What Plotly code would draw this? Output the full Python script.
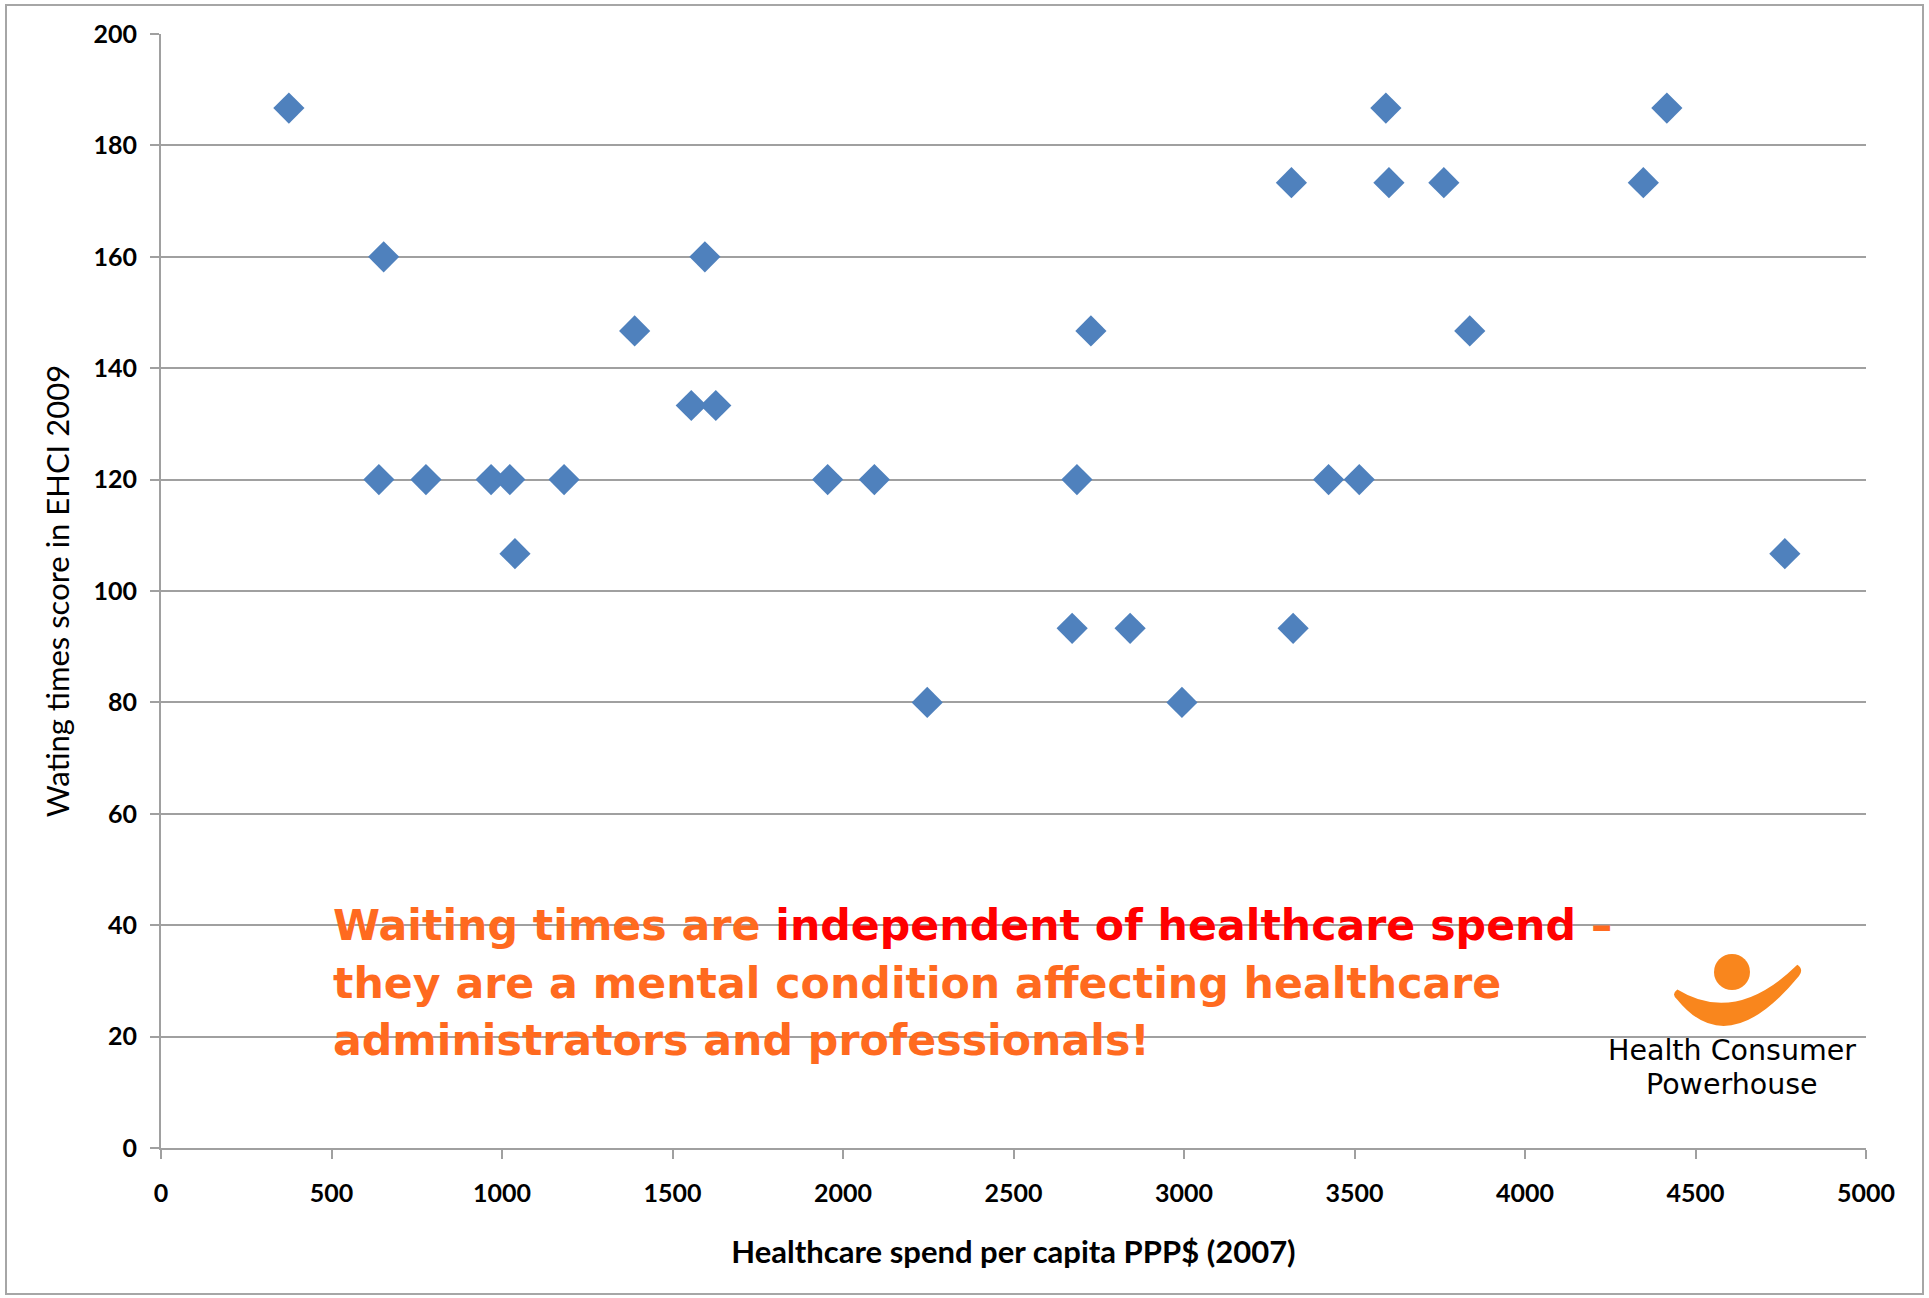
import plotly.graph_objects as go

# ---- data ----
spend = [375, 653, 639, 777, 968, 1023, 1038, 1182, 1389, 1555, 1627, 1595,
         1955, 2092, 2247, 2672, 2686, 2727, 2842, 2994, 3315, 3320, 3424,
         3514, 3592, 3601, 3762, 3838, 4347, 4416, 4762]
score = [186.7, 160, 120, 120, 120, 120, 106.7, 120, 146.7, 133.3, 133.3, 160,
         120, 120, 80, 93.3, 120, 146.7, 93.3, 80, 173.3, 93.3, 120,
         120, 186.7, 173.3, 173.3, 146.7, 173.3, 186.7, 106.7]
x_ticks = [0, 500, 1000, 1500, 2000, 2500, 3000, 3500, 4000, 4500, 5000]
y_ticks = [0, 20, 40, 60, 80, 100, 120, 140, 160, 180, 200]

x_title = "Healthcare spend per capita PPP$ (2007)"
y_title = "Wating times score in EHCI 2009"
msg_line1 = ("Waiting times are ", "independent of healthcare spend", " –")
msg_line2 = "they are a mental condition affecting healthcare"
msg_line3 = "administrators and professionals!"
logo_text = ("Health Consumer", "Powerhouse")

# ---- layout geometry ----
W, H = 1929, 1298
L, R, T, B = 161, 63, 34, 150
PW, PH = W - L - R, H - T - B

def px(x):
    return (x - L) / PW

def py(y):
    return (H - B - y) / PH

GRID = "#A0A0A0"
BLUE = "#4F81BD"
ORANGE = "#FF6A1F"
RED = "#FF0000"
LOGO = "#F9861D"

fig = go.Figure()
fig.add_trace(go.Scatter(
    x=spend, y=score, mode="markers",
    marker=dict(symbol="diamond", size=24, color=BLUE, line=dict(width=0)),
    hoverinfo="x+y", showlegend=False,
))

tickfont = dict(family="Lato", size=25, color="#000000", weight="bold")

fig.update_layout(
    width=W, height=H,
    margin=dict(l=L, r=R, t=T, b=B, pad=0),
    paper_bgcolor="white", plot_bgcolor="white",
    xaxis=dict(
        range=[0, 5000], tickvals=x_ticks, ticktext=[str(v) for v in x_ticks],
        showgrid=False, zeroline=False, showline=True, linecolor=GRID, linewidth=2,
        ticks="outside", ticklen=9, tickwidth=2, tickcolor=GRID,
        tickfont=tickfont, ticklabelstandoff=13,
        title=dict(text=x_title, standoff=35,
                   font=dict(family="Lato", size=31, color="#000000", weight="bold")),
    ),
    yaxis=dict(
        range=[0, 200], tickvals=y_ticks, ticktext=[str(v) for v in y_ticks],
        showgrid=True, gridcolor=GRID, gridwidth=2, zeroline=False,
        showline=True, linecolor=GRID, linewidth=2,
        ticks="outside", ticklen=9, tickwidth=2, tickcolor=GRID,
        tickfont=tickfont, ticklabelstandoff=8,
        title=dict(text=y_title, standoff=15,
                   font=dict(family="Lato", size=31, color="#000000")),
    ),
)

# outer frame
fig.add_shape(type="rect", xref="paper", yref="paper",
              x0=px(6), x1=px(1923), y0=py(1294), y1=py(5),
              line=dict(color="#A6A6A6", width=2), fillcolor="rgba(0,0,0,0)",
              layer="below")

# message text
msgfont = dict(family="DejaVu Sans", size=42.7, color=ORANGE, weight="bold")
line1 = (msg_line1[0] + '<span style="color:%s">' % RED + msg_line1[1] + "</span>"
         + msg_line1[2])
for i, txt in enumerate([line1, msg_line2, msg_line3]):
    fig.add_annotation(xref="paper", yref="paper", x=px(330.5), y=py(925 + 57.5 * i),
                       xanchor="left", yanchor="middle", text=txt, showarrow=False,
                       font=msgfont, align="left")

# logo
def zp(zx, zy):
    return px(1500 + zx / 2.96), py(900 + zy / 2.96)

pts = [(525, 265), (697, 371), (880, 192), (900, 205), (885, 225),
       (675, 480), (525, 295), (505, 280)]
P = [zp(a, b) for a, b in pts]
path = ("M %f,%f Q %f,%f %f,%f Q %f,%f %f,%f Q %f,%f %f,%f Q %f,%f %f,%f Z" % (
    P[0][0], P[0][1], P[1][0], P[1][1], P[2][0], P[2][1],
    P[3][0], P[3][1], P[4][0], P[4][1],
    P[5][0], P[5][1], P[6][0], P[6][1],
    P[7][0], P[7][1], P[0][0], P[0][1]))
fig.add_shape(type="path", xref="paper", yref="paper", path=path,
              fillcolor=LOGO, line=dict(width=0))
hx, hy, hr = 1732, 972, 18
fig.add_shape(type="circle", xref="paper", yref="paper",
              x0=px(hx - hr), x1=px(hx + hr), y0=py(hy + hr), y1=py(hy - hr),
              fillcolor=LOGO, line=dict(width=0))
for i, t in enumerate(logo_text):
    fig.add_annotation(xref="paper", yref="paper", x=px(1732), y=py(1050 + 34 * i),
                       xanchor="center", yanchor="middle", text=t, showarrow=False,
                       font=dict(family="DejaVu Sans", size=28.5, color="#000000"))

fig.write_html("out.html", config={"displayModeBar": False},
               post_script="document.body.style.margin='0';"
                           "document.body.style.overflow='hidden';")
